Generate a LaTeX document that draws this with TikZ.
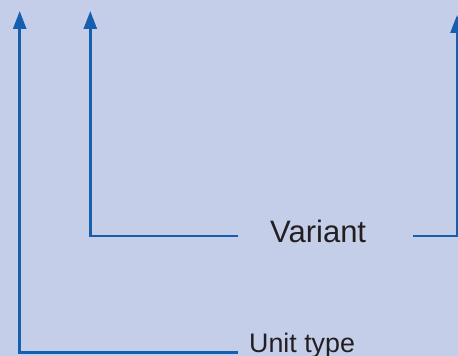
\documentclass[tikz,border=0pt]{standalone}
\usepackage{fontspec}
\setmainfont{Liberation Sans}
\usetikzlibrary{arrows.meta}
\definecolor{bgc}{RGB}{197,206,232}
\definecolor{linec}{RGB}{22,94,174}
\definecolor{txtc}{RGB}{35,31,32}
\tikzset{
  conn/.style={draw=linec, line width=2.7pt},
  arr/.style={conn, -{Triangle[length=18pt,width=13pt]}},
  lbl/.style={inner sep=0pt, text=txtc, anchor=base west}
}
\begin{document}
\begin{tikzpicture}[x=1pt,y=1pt]
\fill[bgc] (0,0) rectangle (458,356);
\useasboundingbox (0,0) rectangle (458,356);
\node[lbl, font=\fontsize{31}{37}\selectfont] (variant) at (270,113.7) {Variant};
\node[lbl, font=\fontsize{26.8}{32}\selectfont] (unit) at (249,3.3) {Unit type};
\coordinate (t1) at (19.7,345);
\coordinate (t2) at (90.3,345);
\coordinate (t3) at (457,341);
\coordinate (vL) at (238,120);
\coordinate (vR) at (413,120);
\coordinate (uL) at (238,3.5);
\draw[arr] (vL) -| (t2);
\draw[arr] (vR) -| (t3);
\draw[arr] (uL) -| (t1);
\end{tikzpicture}
\end{document}
